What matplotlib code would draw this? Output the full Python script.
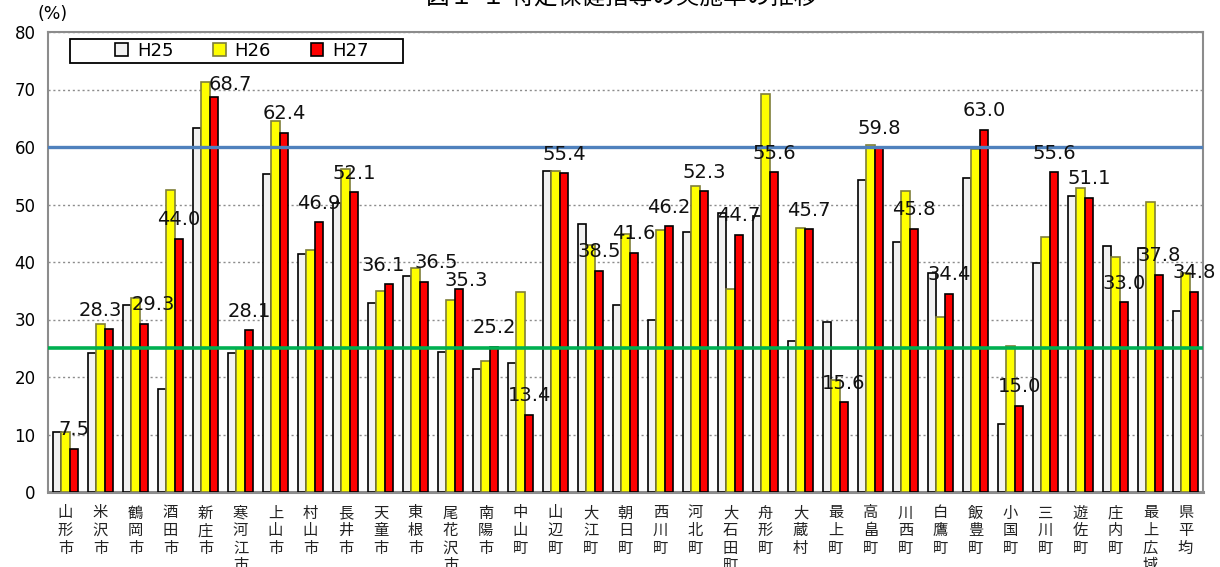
import matplotlib
matplotlib.use("Agg")
import matplotlib.pyplot as plt
import numpy as np
from matplotlib.patches import Rectangle

plt.rcParams['font.family'] = ['DejaVu Sans', 'Noto Sans CJK JP']

categories = ["山形市", "米沢市", "鶴岡市", "酒田市", "新庄市", "寒河江市", "上山市", "村山市",
              "長井市", "天童市", "東根市", "尾花沢市", "南陽市", "中山町", "山辺町", "大江町",
              "朝日町", "西川町", "河北町", "大石田町", "舟形町", "大蔵村", "最上町", "高畠町",
              "川西町", "白鷹町", "飯豊町", "小国町", "三川町", "遊佐町", "庄内町", "最上広域", "県平均"]

h25 = [10.5, 24.2, 32.5, 18.0, 63.3, 24.1, 55.3, 41.4, 50.3, 32.8, 37.6, 24.4, 21.4, 22.4, 55.9, 46.6,
       32.5, 29.9, 45.3, 48.5, 48.0, 26.3, 29.5, 54.3, 43.4, 38.1, 54.6, 11.8, 39.9, 51.4, 42.8, 42.4, 31.5]
h26 = [10.5, 29.2, 33.7, 52.6, 71.3, 25.0, 64.5, 42.1, 56.2, 35.0, 38.9, 33.4, 22.8, 34.7, 55.9, 43.0,
       44.9, 45.6, 53.3, 35.3, 69.3, 45.9, 19.5, 60.3, 52.4, 30.5, 59.6, 25.4, 44.3, 52.9, 40.8, 50.4, 38.1]
h27 = [7.5, 28.3, 29.3, 44.0, 68.7, 28.1, 62.4, 46.9, 52.1, 36.1, 36.5, 35.3, 25.2, 13.4, 55.4, 38.5,
       41.6, 46.2, 52.3, 44.7, 55.6, 45.7, 15.6, 59.8, 45.8, 34.4, 63.0, 15.0, 55.6, 51.1, 33.0, 37.8, 34.8]

series_names = ["H25", "H26", "H27"]
target_lines = [60, 25]
yticks = [0, 10, 20, 30, 40, 50, 60, 70, 80]

# label offsets (points) that differ from the default, to avoid collisions
label_nudge = {"米沢市": (-6, 7), "鶴岡市": (7, 7), "天童市": (-4, 7), "東根市": (9, 7),
               "新庄市": (12, 2), "尾花沢市": (5, -1)}

fig = plt.figure(figsize=(12.2, 5.67), dpi=100)
ax = fig.add_axes([48/1220, 1 - 492/567, 1155/1220, 460/567])

x = np.arange(len(categories))
w = 0.245
ax.bar(x - w, h25, w, color='#F2F2F2', edgecolor='black', linewidth=1.2, label=series_names[0], zorder=3)
ax.bar(x, h26, w, color='#FFFF00', edgecolor='#7F7F3A', linewidth=1.2, label=series_names[1], zorder=3)
ax.bar(x + w, h27, w, color='#FF0000', edgecolor='black', linewidth=1.2, label=series_names[2], zorder=3)

ax.axhline(target_lines[0], color='#4F81BD', linewidth=2.4, zorder=4)
ax.axhline(target_lines[1], color='#00B050', linewidth=2.6, zorder=4)

for xi, c, v in zip(x, categories, h27):
    ax.annotate(f"{v:.1f}", (xi + w, v), xytext=label_nudge.get(c, (0, 7)), textcoords='offset points',
                ha='center', va='bottom', fontsize=14, color='#111111', zorder=5)

ax.set_xlim(-0.5, len(categories) - 0.5)
ax.set_ylim(0, 80)
ax.set_yticks(yticks)
ax.yaxis.grid(True, linestyle=(0, (1.5, 2)), color='#8C8C8C', linewidth=1.0, zorder=0)
ax.tick_params(axis='y', length=0, pad=9, labelsize=12)
ax.tick_params(axis='x', length=0, pad=9)
ax.set_xticks(x)
ax.set_xticklabels(["\n".join(c) for c in categories], fontsize=11,
                   family=['Noto Sans CJK JP'], linespacing=1.05, color='#222222', va='top')

for s in ['left', 'right', 'top']:
    ax.spines[s].set_color('#8C8C8C')
    ax.spines[s].set_linewidth(1.5)
ax.spines['bottom'].set_color('#8C8C8C')
ax.spines['bottom'].set_linewidth(2.2)

# legend with custom frame
x0 = (70 - 48) / 1155
y0 = (492 - 63) / 460
ax.add_patch(Rectangle((x0, y0), 333 / 1155, 24 / 460, transform=ax.transAxes,
                       facecolor='white', edgecolor='black', linewidth=1.3, zorder=6))
leg = ax.legend(loc='center', bbox_to_anchor=(x0 + 172 / 1155, y0 + 12 / 460), ncol=3,
                frameon=False, fontsize=13, handlelength=0.7, handleheight=0.7,
                handletextpad=0.5, columnspacing=2.2, borderpad=0.2)
leg.set_zorder(7)

ax.text(-0.009, 1.02, "(%)", transform=ax.transAxes, fontsize=12.5, ha='left', va='bottom')

fig.text(622 / 1220, 1 - 4 / 567, "図１-１ 特定保健指導の実施率の推移", ha='center', va='baseline',
         fontsize=17, family=['Noto Sans CJK JP'])

fig.savefig("out.png", dpi=100)
